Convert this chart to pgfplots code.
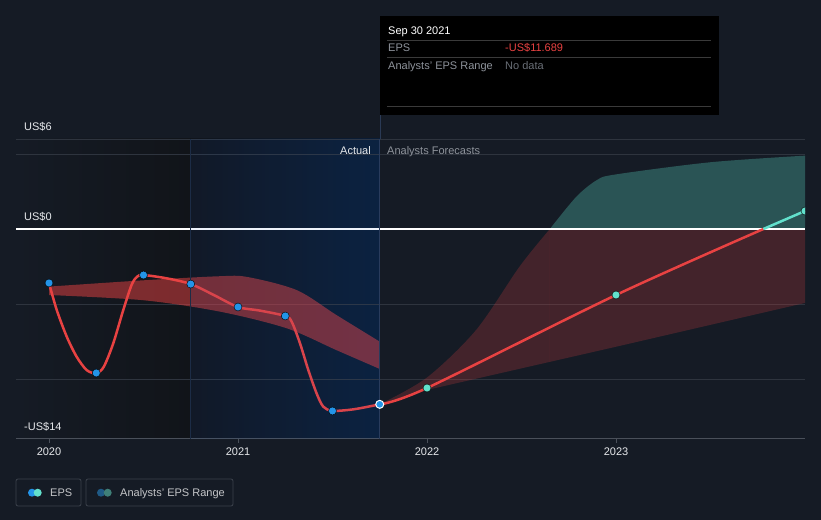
\documentclass[border=0pt]{standalone}
\usepackage{pgfplots}
\pgfplotsset{compat=1.18}
\usepgfplotslibrary{fillbetween}
\usepackage{fontspec}
\setmainfont{Liberation Sans}
\definecolor{bg}{HTML}{151B25}
\definecolor{darkL}{HTML}{111419}
\definecolor{hlL}{HTML}{10141B}
\definecolor{hlR}{HTML}{0A1D37}
\definecolor{hlo}{HTML}{2060C0}
\definecolor{hlborder}{HTML}{1C2C46}
\definecolor{gridc}{HTML}{2E343E}
\definecolor{axisc}{HTML}{4A505A}
\definecolor{epsred}{HTML}{E84242}
\definecolor{epsblue}{HTML}{2394E8}
\definecolor{epsteal}{HTML}{62E0CC}
\definecolor{bandred}{HTML}{E84242}
\definecolor{bandteal}{HTML}{5CD8C4}
\definecolor{txt}{HTML}{E6E8EB}
\definecolor{dim}{HTML}{8E939B}
\definecolor{dimmer}{HTML}{6A6F77}
\definecolor{legblue}{HTML}{1F5A86}
\definecolor{legteal}{HTML}{3F7F78}
\definecolor{boxline}{HTML}{3C424C}
\definecolor{vline}{HTML}{2A3A55}
\definecolor{ttline}{HTML}{3A3A3A}
\pagecolor{bg}

\begin{document}
\begin{tikzpicture}[font=\fontsize{11bp}{13bp}\selectfont]
\path (0,0) rectangle (821bp,520bp);
\begin{axis}[
  set layers,
  at={(16bp,81bp)}, anchor=south west,
  scale only axis, width=789bp, height=300bp,
  xmin=2019.8254, xmax=2024, ymin=-14, ymax=6,
  axis line style={draw=none},
  tick pos=left,
  xtick={2020,2021,2022,2023}, xticklabels={},
  ytick={-10,-5,5,6}, yticklabels={},
  ytick style={draw=none},
  xtick style={draw=axisc, line width=1bp},
  tick align=outside, major tick length=4bp,
  ymajorgrids, grid style={gridc, line width=0.8bp},
  clip marker paths=true,
]
\begin{pgfonlayer}{axis background}
\shade[left color=bg, right color=darkL] (axis cs:2019.8254,-14) rectangle (axis cs:2020.75,6);
\shade[left color=hlL, right color=hlR] (axis cs:2020.75,-14) rectangle (axis cs:2021.75,6);
\end{pgfonlayer}

% past analysts' range
\addplot[name path=pu, draw=none, smooth] coordinates {(2020,-3.84) (2020.5,-3.42) (2020.9,-3.15) (2021.05,-3.2) (2021.31,-4.07) (2021.52,-5.73) (2021.75,-7.51)};
\addplot[name path=pl, draw=none, smooth] coordinates {(2020,-4.4) (2020.5,-4.75) (2020.905,-5.51) (2021.258,-6.62) (2021.52,-8.07) (2021.75,-9.33)};
\addplot[fill=bandred, fill opacity=0.5, draw=none] fill between[of=pu and pl];

% forecast analysts' range, split where the upper edge crosses zero
\addplot[name path=fua, draw=none, smooth] coordinates {(2021.75,-11.689) (2022,-9.9) (2022.26,-6.73) (2022.49,-2.5) (2022.65,0)};
\addplot[name path=fla, draw=none] coordinates {(2021.75,-11.689) (2022,-10.73) (2022.65,-8.858)};
\addplot[name path=fub, draw=none, smooth] coordinates {(2022.65,0) (2022.79,2.15) (2022.9,3.27) (2023,3.64) (2023.5,4.45) (2024,4.89)};
\addplot[name path=flb, draw=none] coordinates {(2022.65,-8.858) (2023,-7.85) (2024,-4.93)};
\addplot[name path=zerob, draw=none] coordinates {(2022.65,0) (2024,0)};
\addplot[fill=bandred, fill opacity=0.22, draw=none] fill between[of=fua and fla];
\addplot[fill=bandred, fill opacity=0.22, draw=none] fill between[of=zerob and flb];
\addplot[fill=bandteal, fill opacity=0.3, draw=none] fill between[of=fub and zerob];

% baseline and zero line
\draw[axisc, line width=1bp] (axis cs:2019.8254,-14) -- (axis cs:2024,-14);
\draw[white, line width=1.2bp] (axis cs:2019.8254,0) -- (axis cs:2024,0);
\draw[hlborder, line width=0.8bp] (axis cs:2020.75,-14) -- (axis cs:2020.75,6);
\draw[vline, line width=0.8bp] (axis cs:2021.75,-14) -- (axis cs:2021.75,6);

% EPS line
\addplot[epsred, line width=2.5bp, smooth, tension=0.5] coordinates {
 (2020,-3.6) (2020.041,-5.4) (2020.094,-7.18) (2020.146,-8.51) (2020.199,-9.4) (2020.25,-9.62)
 (2020.29,-9.18) (2020.34,-7.62) (2020.393,-5.4) (2020.437,-3.73) (2020.466,-3.18) (2020.5,-3.07)
 (2020.623,-3.29) (2020.75,-3.67) (2020.875,-4.42) (2021,-5.2) (2021.116,-5.44) (2021.25,-5.8)
 (2021.284,-6.18) (2021.328,-7.62) (2021.372,-9.4) (2021.416,-10.96) (2021.451,-11.84) (2021.5,-12.12)
 (2021.612,-12.02) (2021.75,-11.689)};
\addplot[epsred, line width=2.5bp, smooth] coordinates {(2021.75,-11.689) (2022,-10.6) (2023,-4.4) (2023.78,0)};
\addplot[epsteal, line width=2.5bp] coordinates {(2023.78,0) (2024,1.2)};

\fill[hlo, fill opacity=0.08] (axis cs:2020.75,-14) rectangle (axis cs:2021.75,6);

% markers
\addplot[only marks, mark=*, mark size=4bp, mark options={draw=none, fill=epsblue}] coordinates {(2020,-3.6) (2020.25,-9.6) (2020.5,-3.07) (2020.75,-3.67) (2021,-5.2) (2021.25,-5.8) (2021.5,-12.13)};
\addplot[only marks, mark=*, mark size=4bp, mark options={draw=white, line width=1bp, fill=epsblue}] coordinates {(2021.75,-11.689)};
\addplot[only marks, mark=*, mark size=4bp, mark options={draw=none, fill=epsteal}] coordinates {(2022,-10.6) (2023,-4.4) (2024,1.2)};
\end{axis}

% y labels
\node[anchor=base west, text=txt, inner sep=0] at (24bp,389bp) {US\$6};
\node[anchor=base west, text=txt, inner sep=0] at (24bp,299bp) {US\$0};
\node[anchor=base west, text=txt, inner sep=0] at (24bp,89bp) {-US\$14};
% x labels
\foreach \xx/\lab in {49/2020,238/2021,427/2022,616/2023}
  \node[anchor=base, text=txt, inner sep=0] at (\xx bp,64bp) {\lab};
% section labels
\node[anchor=base east, text=txt, inner sep=0] at (371bp,365bp) {Actual};
\node[anchor=base west, text=dim, inner sep=0] at (387bp,365bp) {Analysts Forecasts};

% tooltip
\draw[vline, line width=0.8bp] (380bp,381bp) -- (380bp,405bp);
\fill[black] (380bp,405bp) rectangle (719bp,504bp);
\foreach \yy in {480,463,414}
  \draw[ttline, line width=0.8bp] (387bp,\yy bp) -- (711bp,\yy bp);
\node[anchor=base west, text=white, inner sep=0] at (388bp,485bp) {Sep 30 2021};
\node[anchor=base west, text=dim, inner sep=0] at (388bp,468bp) {EPS};
\node[anchor=base west, text=epsred, inner sep=0] at (505bp,468bp) {-US\$11.689};
\node[anchor=base west, text=dim, inner sep=0] at (388bp,450bp) {Analysts' EPS Range};
\node[anchor=base west, text=dimmer, inner sep=0] at (505bp,450bp) {No data};

% legend
\draw[boxline, line width=0.8bp, rounded corners=2bp] (16bp,14bp) rectangle (81bp,41bp);
\fill[epsblue] (32bp,27.3bp) circle (4bp);
\fill[epsteal] (37.7bp,27.3bp) circle (4bp);
\node[anchor=base west, text=txt!85!black, inner sep=0] at (50bp,23.5bp) {EPS};
\draw[boxline, line width=0.8bp, rounded corners=2bp] (86bp,14bp) rectangle (233bp,41bp);
\fill[legblue] (101bp,27.3bp) circle (4bp);
\fill[legteal] (107.7bp,27.3bp) circle (4bp);
\node[anchor=base west, text=txt!85!black, inner sep=0] at (120bp,23.5bp) {Analysts' EPS Range};
\end{tikzpicture}
\end{document}
